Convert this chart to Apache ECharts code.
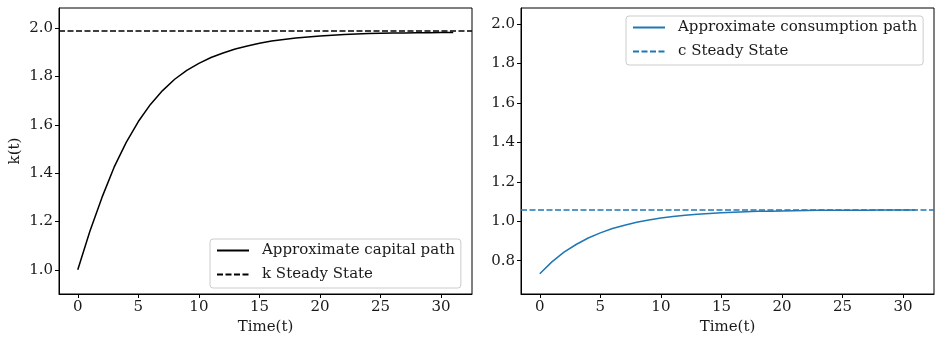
<!DOCTYPE html>
<html>
<head>
<meta charset="utf-8">
<script src="https://cdn.jsdelivr.net/npm/echarts@6/dist/echarts.min.js"></script>
<style>html,body{margin:0;padding:0;background:#fff}#c{width:942px;height:342px}</style>
</head>
<body>
<div id="c"></div>
<script>
const timeSteps = [0,1,2,3,4,5,6,7,8,9,10,11,12,13,14,15,16,17,18,19,20,21,22,23,24,25,26,27,28,29,30,31];
const capitalPath = [1.000,1.160,1.300,1.425,1.528,1.614,1.685,1.742,1.789,1.826,1.855,1.879,1.898,1.914,1.927,1.938,1.947,1.954,1.960,1.964,1.968,1.971,1.974,1.976,1.978,1.979,1.980,1.981,1.982,1.982,1.983,1.983];
const consumptionPath = [0.734,0.794,0.843,0.882,0.915,0.941,0.963,0.980,0.995,1.006,1.016,1.024,1.030,1.035,1.039,1.043,1.046,1.048,1.050,1.051,1.052,1.053,1.054,1.055,1.055,1.056,1.056,1.056,1.057,1.057,1.057,1.057];
const kSteady = 1.986;
const cSteady = 1.058;
const xTicks = [0,5,10,15,20,25,30];
const kTicks = [1.0,1.2,1.4,1.6,1.8,2.0];
const cTicks = [0.8,1.0,1.2,1.4,1.6,1.8,2.0];

const FONT = 'DejaVu Serif';
const TXT = '#1a1a1a';
const BLUE = '#1f77b4';

function xAxisCfg(idx){
  return {
    type:'value', gridIndex:idx, min:-1.55, max:32.55,
    name:'Time(t)', nameLocation:'middle', nameGap:25,
    nameTextStyle:{fontFamily:FONT,fontSize:15,color:TXT},
    axisLine:{show:true,onZero:false,lineStyle:{color:'#000',width:1}},
    axisTick:{show:true,customValues:xTicks,length:4,lineStyle:{color:'#000'}},
    axisLabel:{customValues:xTicks,fontFamily:FONT,fontSize:15,color:TXT,margin:6},
    splitLine:{show:false}
  };
}
function yAxisCfg(idx,min,max,ticks,name){
  return {
    type:'value', gridIndex:idx, min:min, max:max,
    name:name, nameLocation:'middle', nameGap:36, nameRotate:90,
    nameTextStyle:{fontFamily:FONT,fontSize:15,color:TXT},
    axisLine:{show:true,onZero:false,lineStyle:{color:'#000',width:1}},
    axisTick:{show:true,customValues:ticks,length:4,lineStyle:{color:'#000'}},
    axisLabel:{customValues:ticks,fontFamily:FONT,fontSize:15,color:TXT,margin:6,
      formatter:v=>v.toFixed(1)},
    splitLine:{show:false}
  };
}
function legendCfg(left,top,names){
  return {
    data:names, orient:'vertical', left:left, top:top,
    itemWidth:32, itemHeight:14, itemGap:9,
    padding:[4,6,6,6],
    backgroundColor:'rgba(255,255,255,0.8)',
    borderColor:'#cccccc', borderWidth:1, borderRadius:3,
    itemStyle:{opacity:0},
    textStyle:{fontFamily:FONT,fontSize:15,lineHeight:14,color:TXT,padding:[0,0,0,8]}
  };
}

const chart = echarts.init(document.getElementById('c'),null,{renderer:'canvas'});
chart.setOption({
  animation:false,
  backgroundColor:'#fff',
  grid:[
    {left:59,top:8,width:413,height:286,show:true,borderColor:'#000',borderWidth:1,backgroundColor:'transparent'},
    {left:521,top:8,width:413,height:286,show:true,borderColor:'#000',borderWidth:1,backgroundColor:'transparent'}
  ],
  xAxis:[xAxisCfg(0),xAxisCfg(1)],
  yAxis:[yAxisCfg(0,0.9,2.084,kTicks,'k(t)'),yAxisCfg(1,0.631,2.081,cTicks,'')],
  legend:[
    legendCfg(210,239,['Approximate capital path','k Steady State']),
    legendCfg(626,16,['Approximate consumption path','c Steady State'])
  ],
  series:[
    {name:'Approximate capital path',type:'line',xAxisIndex:0,yAxisIndex:0,
     data:timeSteps.map((t,i)=>[t,capitalPath[i]]),symbol:'none',
     lineStyle:{color:'#000',width:1.5},itemStyle:{color:'#000'}},
    {name:'k Steady State',type:'line',xAxisIndex:0,yAxisIndex:0,data:[],symbol:'none',
     lineStyle:{color:'#000',width:1.5,type:[6,2.5]},itemStyle:{color:'#000'},
     markLine:{silent:true,symbol:'none',label:{show:false},
       lineStyle:{color:'#000',width:1.5,type:[6,2.5]},data:[{yAxis:kSteady}]}},
    {name:'Approximate consumption path',type:'line',xAxisIndex:1,yAxisIndex:1,
     data:timeSteps.map((t,i)=>[t,consumptionPath[i]]),symbol:'none',
     lineStyle:{color:BLUE,width:1.5},itemStyle:{color:BLUE}},
    {name:'c Steady State',type:'line',xAxisIndex:1,yAxisIndex:1,data:[],symbol:'none',
     lineStyle:{color:BLUE,width:1.5,type:[6,2.5]},itemStyle:{color:BLUE},
     markLine:{silent:true,symbol:'none',label:{show:false},
       lineStyle:{color:BLUE,width:1.5,type:[6,2.5]},data:[{yAxis:cSteady}]}}
  ]
});
</script>
</body>
</html>
